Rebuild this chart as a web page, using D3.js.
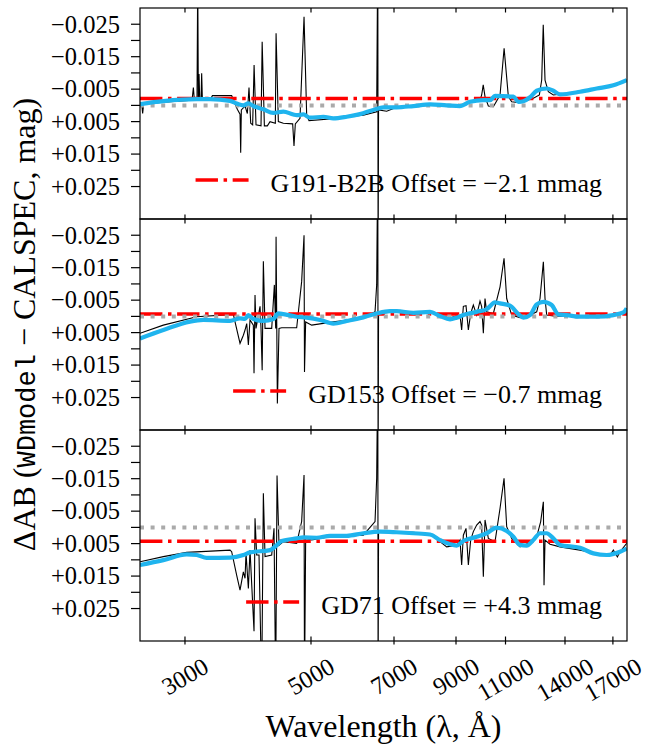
<!DOCTYPE html>
<meta charset="utf-8">
<body style="margin:0">
<script src="https://cdn.jsdelivr.net/npm/d3@7/dist/d3.min.js"></script>
<script>

var width = 646,
    height = 750;

var left = 140, right = 627, top0 = 8, panelH = 211;
var serif = "'Liberation Serif'";
var mono = "'Liberation Mono'";

// star names, offsets (mag) and legend strings
var stars = ["G191-B2B", "GD153", "GD71"];
var offsets = [-0.0021, -0.0007, 0.0043];
var offsetText = ["\u22122.1", "\u22120.7", "+4.3"];

var xTicks = [3000, 5000, 7000, 9000, 11000, 14000, 17000];
var yTicks = [-0.025, -0.02, -0.015, -0.01, -0.005, 0, 0.005, 0.01, 0.015, 0.02, 0.025];
var yLabelled = [-0.025, -0.015, -0.005, 0.005, 0.015, 0.025];

// [wavelength (A), delta AB (mag)]
var g191Black = [[2500,-0.0001],[2520,0.0002],[2527,0.0025],[2537,-0.0004],[2748,-0.0010],[3087,-0.0016],[3104,-0.0055],[3116,-0.0016],[3150,-0.0016],[3159,-0.0400],[3167,-0.0016],[3176,-0.0097],[3185,-0.0016],[3202,-0.0016],[3210,-0.0099],[3219,-0.0018],[3339,-0.0024],[3353,-0.0030],[3625,-0.0030],[3660,-0.0011],[3709,0.0012],[3750,0.0027],[3760,0.0146],[3770,0.0014],[3827,0.0002],[3863,0.0025],[3889,-0.0055],[3916,0.0055],[3947,0.0060],[3970,-0.0124],[4001,0.0060],[4083,0.0063],[4102,-0.0196],[4139,0.0063],[4189,0.0063],[4235,0.0050],[4327,0.0055],[4340,-0.0222],[4380,0.0050],[4470,0.0055],[4642,0.0057],[4667,0.0125],[4692,0.0057],[4782,0.0040],[4861,-0.0273],[4913,0.0030],[4960,0.0047],[5401,0.0042],[5779,0.0035],[6182,0.0030],[6525,0.0020],[6555,-0.0500],[6563,0.0500],[6575,0.0014],[6795,0.0018],[7076,0.0006],[7572,0.0002],[8100,0.0000],[9147,0.0000],[9526,-0.0011],[9920,-0.0016],[9987,-0.0032],[10050,-0.0063],[10123,-0.0027],[10261,0.0002],[10471,0.0004],[10759,-0.0032],[10938,-0.0176],[11128,-0.0027],[11279,-0.0011],[11667,-0.0008],[12315,-0.0022],[12618,-0.0032],[12738,-0.0078],[12818,-0.0248],[12911,-0.0078],[13086,-0.0042],[13354,-0.0032],[14880,-0.0042],[15920,-0.0051],[16578,-0.0060],[17032,-0.0062],[17979,-0.0078]];
var g191Cyan = [[2500,-0.0004],[2748,-0.0013],[3146,-0.0019],[3321,-0.0019],[3601,-0.0014],[3699,-0.0006],[3801,0.0000],[3879,-0.0006],[3958,0.0002],[4122,0.0012],[4292,0.0023],[4470,0.0019],[4654,0.0028],[4718,0.0030],[4847,0.0028],[4980,0.0038],[5257,0.0035],[5474,0.0040],[5779,0.0035],[6099,0.0027],[6438,0.0014],[6704,0.0006],[7076,0.0006],[7572,0.0002],[8100,-0.0003],[8666,0.0000],[9147,0.0002],[9526,-0.0011],[10055,-0.0016],[10330,-0.0016],[10543,-0.0029],[11356,-0.0027],[11588,-0.0011],[11826,-0.0013],[12149,-0.0025],[12482,-0.0045],[12998,-0.0052],[13354,-0.0045],[13720,-0.0034],[14880,-0.0042],[15920,-0.0052],[17032,-0.0062],[17979,-0.0078]];

var gd153Black = [[2500,0.0052],[2748,0.0027],[3146,0.0001],[3650,-0.0006],[3674,0.0016],[3750,0.0083],[3801,0.0058],[3827,0.0042],[3853,0.0022],[3879,0.0088],[3905,0.0011],[3958,0.0027],[3969,0.0175],[3985,-0.0066],[4001,0.0037],[4067,-0.0031],[4083,0.0037],[4102,0.0166],[4122,-0.0170],[4150,0.0037],[4264,0.0037],[4310,-0.0097],[4333,0.0037],[4340,-0.0245],[4363,0.0268],[4392,0.0037],[4440,0.0035],[4718,0.0035],[4814,-0.0107],[4861,-0.0250],[4870,0.0171],[4893,0.0017],[5014,0.0027],[5474,0.0017],[6182,0.0006],[6482,-0.0014],[6525,-0.0097],[6555,-0.0500],[6563,0.0500],[6575,-0.0009],[6981,-0.0014],[7572,-0.0011],[8100,-0.0016],[8210,-0.0014],[8435,-0.0002],[8784,0.0004],[9147,-0.0004],[9209,0.0042],[9272,-0.0031],[9373,-0.0033],[9462,0.0042],[9552,-0.0009],[9655,-0.0035],[9787,-0.0004],[9920,-0.0047],[9987,-0.0030],[10055,0.0052],[10123,-0.0055],[10191,-0.0014],[10471,-0.0009],[10759,-0.0091],[10935,-0.0179],[11053,-0.0055],[11279,-0.0004],[11667,0.0004],[11986,0.0001],[12482,-0.0014],[12652,-0.0055],[12824,-0.0168],[12911,-0.0055],[12998,-0.0004],[13354,-0.0001],[14880,0.0001],[17032,-0.0004],[17738,-0.0009],[17979,-0.0025]];
var gd153Cyan = [[2500,0.0068],[2748,0.0042],[3062,0.0016],[3232,0.0011],[3601,0.0014],[3750,0.0006],[3827,0.0008],[3879,-0.0004],[3958,0.0008],[4122,0.0014],[4292,0.0008],[4380,-0.0009],[4470,-0.0007],[4718,0.0001],[4913,0.0004],[5186,0.0011],[5474,0.0022],[5779,0.0014],[6182,0.0003],[6525,-0.0009],[6888,-0.0016],[7076,-0.0016],[7572,-0.0011],[8100,-0.0014],[8435,-0.0001],[8784,0.0009],[9025,0.0004],[9272,-0.0004],[9787,-0.0014],[10191,-0.0022],[10543,-0.0043],[10759,-0.0040],[11203,-0.0033],[11588,-0.0007],[11826,0.0004],[12149,-0.0004],[12482,-0.0037],[12824,-0.0045],[13264,-0.0035],[13628,-0.0006],[14096,-0.0004],[14880,0.0001],[15920,0.0001],[17032,-0.0004],[17738,-0.0012],[17979,-0.0025]];

var gd71Black = [[2500,0.0106],[2748,0.0090],[3021,0.0077],[3601,0.0070],[3625,0.0075],[3699,0.0147],[3750,0.0193],[3801,0.0137],[3827,0.0157],[3842,0.0080],[3879,0.0188],[3905,0.0070],[3969,0.0320],[3985,-0.0028],[4012,0.0085],[4050,0.0085],[4094,0.0500],[4122,-0.0105],[4150,0.0090],[4264,0.0085],[4304,0.0003],[4333,0.0500],[4357,-0.0160],[4392,0.0055],[4470,0.0044],[4718,0.0049],[4814,-0.0018],[4861,-0.0161],[4870,0.0500],[4893,0.0034],[5014,0.0039],[5401,0.0029],[6182,0.0024],[6482,-0.0018],[6525,-0.0151],[6555,-0.0500],[6563,0.0500],[6575,0.0013],[7076,0.0013],[7572,0.0015],[8210,0.0022],[8435,0.0044],[8666,0.0060],[9025,0.0055],[9147,0.0039],[9209,0.0116],[9272,0.0024],[9373,0.0003],[9462,0.0116],[9552,0.0039],[9655,0.0013],[9787,-0.0007],[9920,-0.0018],[9987,-0.0007],[10055,0.0152],[10123,-0.0023],[10261,0.0034],[10543,0.0044],[10759,-0.0059],[10935,-0.0151],[11053,-0.0002],[11279,0.0034],[11667,0.0060],[12068,0.0049],[12482,0.0029],[12686,-0.0018],[12824,-0.0079],[12859,0.0178],[12911,0.0039],[13175,0.0052],[13720,0.0060],[14880,0.0070],[15920,0.0080],[16803,0.0085],[17032,0.0070],[17311,0.0091],[17499,0.0075],[17979,0.0049]];
var gd71Cyan = [[2500,0.0116],[2748,0.0101],[3021,0.0083],[3146,0.0085],[3276,0.0094],[3601,0.0093],[3801,0.0085],[3905,0.0077],[4235,0.0070],[4351,0.0055],[4440,0.0042],[4718,0.0034],[4847,0.0031],[5116,0.0032],[5401,0.0026],[5779,0.0026],[6182,0.0018],[6614,0.0013],[7076,0.0015],[7572,0.0018],[8100,0.0022],[8435,0.0039],[8784,0.0052],[9025,0.0056],[9272,0.0042],[9787,0.0029],[10191,0.0018],[10614,0.0001],[11053,0.0011],[11356,0.0029],[11667,0.0054],[11986,0.0056],[12315,0.0039],[12652,0.0018],[12998,0.0018],[13354,0.0034],[13720,0.0054],[14880,0.0063],[15706,0.0080],[16578,0.0085],[17499,0.0075],[17979,0.0065]];

var blackSeries = [g191Black, gd153Black, gd71Black];
var cyanSeries = [g191Cyan, gd153Cyan, gd71Cyan];

var svg = d3.select("body").append("svg")
    .attr("width", width)
    .attr("height", height);

svg.append("rect").attr("width", width).attr("height", height).attr("fill", "#fff");

var x = d3.scaleLog().domain([2500, 18000]).range([left, right]);

function fmtY(d) {
    return (d < 0 ? "\u2212" : "+") + Math.abs(d).toFixed(3);
}

stars.forEach(function(name, i) {
    var top = top0 + i * panelH;
    // y is inverted: brighter (negative) up
    var y = d3.scaleLinear().domain([-0.03, 0.035]).range([top, top + panelH]);

    var g = svg.append("g");

    g.append("clipPath").attr("id", "clip" + i)
      .append("rect")
        .attr("x", left).attr("y", top)
        .attr("width", right - left).attr("height", panelH);

    var plot = g.append("g").attr("clip-path", "url(#clip" + i + ")");

    var line = d3.line()
        .x(function(d) { return x(d[0]); })
        .y(function(d) { return y(d[1]); });

    plot.append("path")
        .datum(blackSeries[i])
        .attr("d", line)
        .attr("fill", "none")
        .attr("stroke", "#000")
        .attr("stroke-width", 1.1);

    plot.append("line")
        .attr("x1", left).attr("x2", right)
        .attr("y1", y(offsets[i])).attr("y2", y(offsets[i]))
        .attr("stroke", "#ff0000")
        .attr("stroke-width", 3.5)
        .attr("stroke-dasharray", "22.4,5.6,3.5,5.6");

    plot.append("line")
        .attr("x1", left).attr("x2", right)
        .attr("y1", y(0)).attr("y2", y(0))
        .attr("stroke", "#aaaaaa")
        .attr("stroke-width", 4)
        .attr("stroke-dasharray", "4,6.6");

    plot.append("path")
        .datum(cyanSeries[i])
        .attr("d", line.curve(d3.curveMonotoneX))
        .attr("fill", "none")
        .attr("stroke", "#1fb4ee")
        .attr("stroke-width", 4.2)
        .attr("stroke-linejoin", "round");

    // y ticks (outward) and labels
    yTicks.forEach(function(d) {
        g.append("line")
            .attr("x1", left - 9).attr("x2", left)
            .attr("y1", y(d)).attr("y2", y(d))
            .attr("stroke", "#000").attr("stroke-width", 1.2);
    });

    yLabelled.forEach(function(d) {
        g.append("text")
            .style("font-family", serif)
            .attr("font-size", 24.5)
            .attr("x", 120)
            .attr("y", y(d) + 8.3)
            .attr("text-anchor", "end")
            .text(fmtY(d));
    });

    // x ticks, inward at top and bottom
    xTicks.forEach(function(d) {
        g.append("line")
            .attr("x1", x(d)).attr("x2", x(d))
            .attr("y1", top).attr("y2", top + 4.5)
            .attr("stroke", "#000").attr("stroke-width", 1.2);
        g.append("line")
            .attr("x1", x(d)).attr("x2", x(d))
            .attr("y1", top + panelH - 4.5)
            .attr("y2", top + panelH + (i == 2 ? 3.5 : 0))
            .attr("stroke", "#000").attr("stroke-width", 1.2);
    });

    g.append("rect")
        .attr("x", left).attr("y", top)
        .attr("width", right - left).attr("height", panelH)
        .attr("fill", "none")
        .attr("stroke", "#000")
        .attr("stroke-width", 1.2);

    // legend, right aligned, no frame
    var lt = g.append("text")
        .style("font-family", serif)
        .attr("font-size", 26)
        .attr("x", 602)
        .attr("y", top + 184)
        .attr("text-anchor", "end")
        .text(name + " Offset = " + offsetText[i] + " mmag");
    var tw = lt.node().getComputedTextLength();
    var tx = 602 - tw;
    g.append("line")
        .attr("x1", tx - 75).attr("x2", tx - 22)
        .attr("y1", top + 172).attr("y2", top + 172)
        .attr("stroke", "#ff0000")
        .attr("stroke-width", 3.5)
        .attr("stroke-dasharray", "22.4,5.6,3.5,5.6");
});

// rotated x tick labels under the bottom panel
var labTop = 657;
xTicks.forEach(function(t) {
    var tx = svg.append("text")
        .style("font-family", serif)
        .attr("font-size", 24.5)
        .attr("text-anchor", "middle")
        .attr("y", 8.3)
        .text(t);
    var w = tx.node().getComputedTextLength();
    var cy = labTop + (w * 0.5 + 16.5 * 0.866) / 2;
    tx.attr("transform", "translate(" + x(t) + "," + cy + ") rotate(-30)");
});

svg.append("text")
    .style("font-family", serif)
    .attr("font-size", 32)
    .attr("x", (left + right) / 2)
    .attr("y", 737)
    .attr("text-anchor", "middle")
    .text("Wavelength (\u03bb, \u00c5)");

var yl = svg.append("text")
    .style("font-family", serif)
    .attr("font-size", 32)
    .attr("transform", "translate(35," + (top0 + 1.5 * panelH) + ") rotate(-90)")
    .attr("text-anchor", "middle");
yl.append("tspan").text("\u0394AB (");
yl.append("tspan").style("font-family", mono).attr("font-size", 27).text("WDmodel");
yl.append("tspan").text(" \u2212 CALSPEC, mag)");

</script>
